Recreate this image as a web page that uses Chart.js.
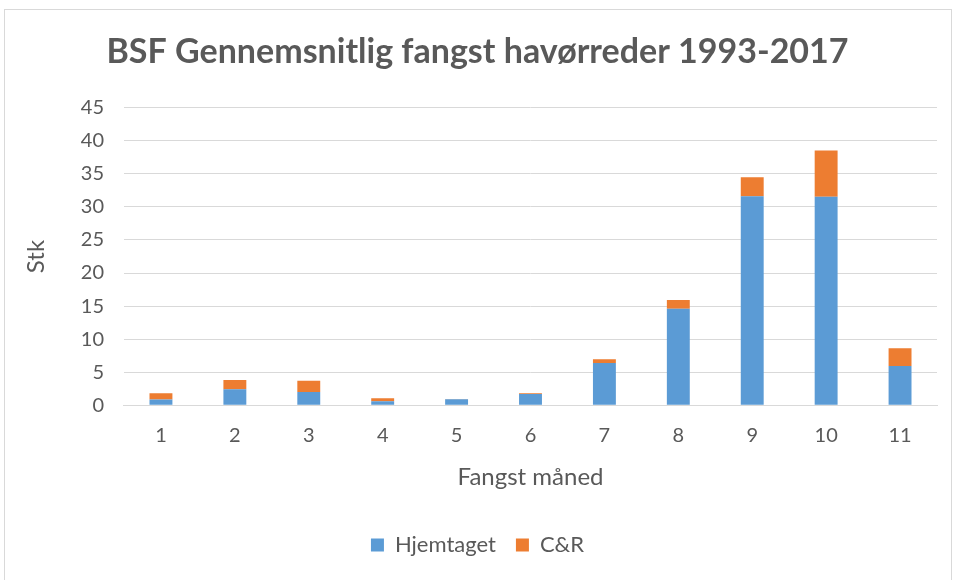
<!DOCTYPE html>
<html>
<head>
<meta charset="utf-8">
<script src="https://cdn.jsdelivr.net/npm/chart.js@4"></script>
<style>
  html, body { margin: 0; padding: 0; background: #fff; }
  #wrap { width: 957px; height: 580px; position: relative; }
</style>
</head>
<body>
<div id="wrap"><canvas id="myChart" width="957" height="580"></canvas></div>
<script>
const months = ['1', '2', '3', '4', '5', '6', '7', '8', '9', '10', '11'];
const hjemtaget = [0.85, 2.4, 2.0, 0.6, 0.9, 1.7, 6.4, 14.6, 31.6, 31.55, 5.95];
const catchRelease = [0.95, 1.4, 1.7, 0.45, 0.05, 0.1, 0.55, 1.3, 2.9, 7.0, 2.65];

const grey = '#595959';
const font = 'Lato, "Liberation Sans", sans-serif';

const frame = {
  id: 'frame',
  beforeDraw(chart) {
    const ctx = chart.ctx;
    ctx.save();
    ctx.fillStyle = '#fff';
    ctx.fillRect(0, 0, chart.width, chart.height);
    ctx.strokeStyle = '#d9d9d9';
    ctx.lineWidth = 1;
    ctx.strokeRect(4.5, 9.5, 947, 580);
    ctx.restore();
  }
};

const ctx = document.getElementById('myChart').getContext('2d');
new Chart(ctx, {
  type: 'bar',
  data: {
    labels: months,
    datasets: [{
      label: 'Hjemtaget',
      data: hjemtaget,
      backgroundColor: '#5b9bd5',
      borderWidth: 0
    }, {
      label: 'C&R',
      data: catchRelease,
      backgroundColor: '#ed7d31',
      borderWidth: 0
    }]
  },
  options: {
    responsive: false,
    animation: false,
    layout: { padding: { left: 18, right: 20, top: 32, bottom: 14 } },
    datasets: { bar: { barPercentage: 0.31, categoryPercentage: 1 } },
    plugins: {
      title: {
        display: true,
        text: 'BSF Gennemsnitlig fangst havørreder 1993-2017',
        color: grey,
        font: { family: font, size: 34, weight: 'bold' },
        padding: { top: 0, bottom: 35 }
      },
      legend: {
        position: 'bottom',
        labels: {
          color: grey,
          font: { family: font, size: 22 },
          boxWidth: 13,
          boxHeight: 13,
          padding: 20
        }
      },
      tooltip: { enabled: false }
    },
    scales: {
      x: {
        stacked: true,
        grid: { display: false },
        border: { color: '#d9d9d9' },
        ticks: { color: grey, font: { family: font, size: 20 }, padding: 10 },
        title: {
          display: true,
          text: 'Fangst måned',
          color: grey,
          font: { family: font, size: 24 },
          padding: { top: 6, bottom: 22 }
        }
      },
      y: {
        stacked: true,
        min: 0,
        max: 45,
        ticks: { stepSize: 5, color: grey, font: { family: font, size: 20 }, padding: 20 },
        grid: { color: '#d9d9d9', drawTicks: false },
        border: { display: false },
        title: {
          display: true,
          text: 'Stk',
          color: grey,
          font: { family: font, size: 24 },
          padding: { bottom: 10 }
        }
      }
    }
  },
  plugins: [frame]
});
</script>
</body>
</html>
